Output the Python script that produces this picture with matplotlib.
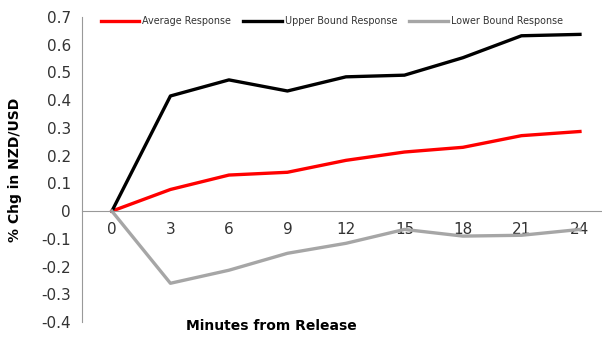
import matplotlib.pyplot as plt

minutes = [0, 3, 6, 9, 12, 15, 18, 21, 24]
average = [0, 0.078, 0.13, 0.14, 0.183, 0.213, 0.23, 0.272, 0.287]
upper = [0, 0.415, 0.473, 0.433, 0.484, 0.49, 0.553, 0.632, 0.637]
lower = [0, -0.26, -0.213, -0.152, -0.116, -0.066, -0.09, -0.087, -0.066]
y_ticks = [-0.4, -0.3, -0.2, -0.1, 0, 0.1, 0.2, 0.3, 0.4, 0.5, 0.6, 0.7]
y_labels = ['-0.4', '-0.3', '-0.2', '-0.1', '0', '0.1', '0.2', '0.3', '0.4', '0.5', '0.6', '0.7']

fig = plt.figure(figsize=(6.02, 3.38), dpi=100)
ax = fig.add_axes([0.136, 0.047, 0.864, 0.903])

ax.plot(minutes, average, color='#ff0000', lw=2.4, label='Average Response')
ax.plot(minutes, upper, color='#000000', lw=2.4, label='Upper Bound Response')
ax.plot(minutes, lower, color='#a6a6a6', lw=2.4, label='Lower Bound Response')

ax.set_xlim(-1.54, 25.13)
ax.set_ylim(-0.4, 0.7)
ax.set_xticks(minutes)
ax.set_yticks(y_ticks)
ax.set_yticklabels(y_labels)

for s in ['top', 'right']:
    ax.spines[s].set_visible(False)
ax.spines['bottom'].set_position(('data', 0))
ax.spines['bottom'].set_color('#999999')
ax.spines['left'].set_color('#999999')
ax.tick_params(length=0, labelsize=11, colors='#333333')
ax.tick_params(axis='x', pad=8)
ax.tick_params(axis='y', pad=8)

ax.set_ylabel('% Chg in NZD/USD', fontsize=10, fontweight='bold')
ax.yaxis.set_label_coords(-0.115, 0.5)
fig.text(0.45, 0.035, 'Minutes from Release', fontsize=10, fontweight='bold',
         ha='center', va='center')

ax.legend(loc='upper left', bbox_to_anchor=(0.02, 1.03), ncol=3, frameon=False,
          fontsize=6.9, handlelength=4.0, handletextpad=0.3, columnspacing=1.3,
          labelcolor='#333333')

plt.savefig('out.png', dpi=100)
plt.close()
